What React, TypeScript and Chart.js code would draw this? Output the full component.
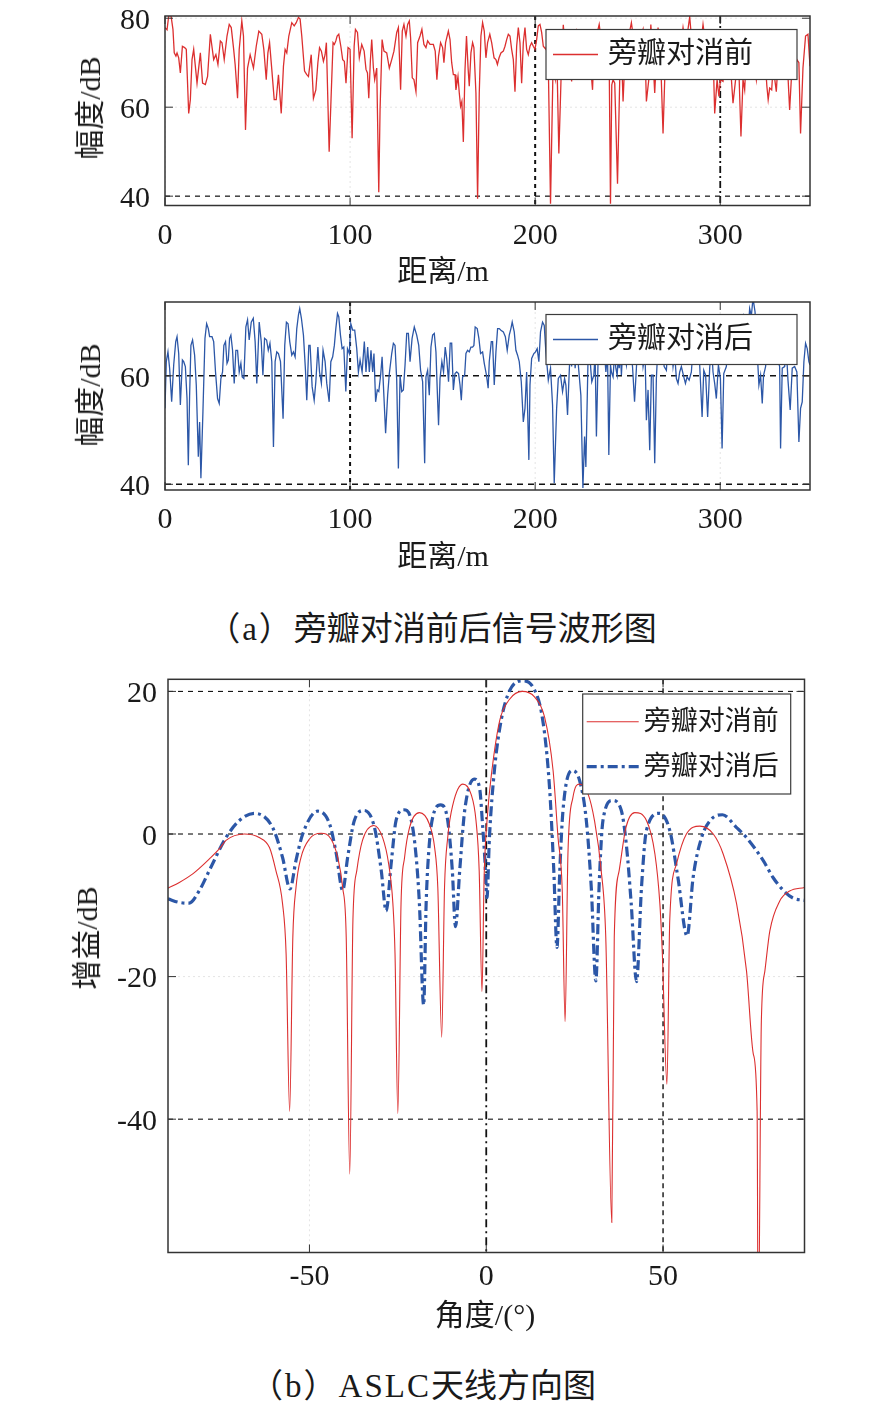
import { useEffect, useRef } from "react";
import { Chart, registerables } from "chart.js";

Chart.register(...registerables);

// (a) 旁瓣对消前 —— 距离 (m) / 幅度 (dB)
const DIST_BEFORE = [
  0, 1.1, 2, 3.2, 4.3, 5, 5.9, 6.5, 7.4, 8.3,
  9.4, 10.6, 11.5, 12.8, 13.7, 14.6, 15.5, 17.3, 19.1, 20.3,
  21.8, 23, 24.5, 26.3, 27.5, 28.6, 29.9, 30.8, 32, 33.5,
  34.7, 35.8, 37.1, 37.9, 39.2, 40.1, 41.5, 42.4, 43.5, 44.6,
  46, 47.8, 49.3, 50.7, 52.3, 53.4, 54.7, 55.6, 56.5, 57.7,
  59, 60.1, 61.3, 62.8, 64, 64.9, 65.8, 66.9, 68.5, 69.8,
  70.9, 72.1, 73, 73.9, 75.4, 76.6, 77.5, 79, 80.2, 81.5,
  82.6, 83.5, 84.5, 85.6, 86.5, 87.2, 88.7, 89.7, 90.8, 91.5,
  92.3, 93, 93.9, 95, 96, 96.9, 97.8, 98.9, 100, 101.1,
  102.2, 102.9, 104, 105, 106.3, 107.6, 108.6, 109.4, 110.1, 111,
  111.7, 112.6, 113.3, 114.4, 115.5, 116.2, 117.3, 118.3, 119.8, 121.2,
  122.5, 123.7, 125.2, 126.1, 127.3, 128.2, 129.1, 130.2, 131.1, 132,
  132.7, 133.6, 134.5, 135.6, 136.5, 137.8, 138.8, 139.9, 141, 141.9,
  143.2, 145, 146, 146.9, 147.8, 148.9, 150, 150.7, 151.6, 153.1,
  154, 154.9, 155.8, 156.7, 157.2, 158.3, 159, 159.7, 160.4, 161.2,
  162.1, 162.9, 163.8, 164.4, 165.3, 166.2, 166.9, 168, 168.9, 169.8,
  170.7, 171.6, 172.5, 173.4, 174.3, 175.5, 176.5, 177.8, 178.8, 179.6,
  180.5, 181.5, 182.8, 183.7, 184.6, 185.5, 186.4, 187.3, 188.2, 189.1,
  190, 190.9, 191.8, 192.7, 193.6, 194.5, 195.4, 196.3, 197.2, 198.1,
  199, 199.9, 200.8, 201.7, 202.6, 203.5, 204.4, 205.8, 206.9, 208.3,
  209.7, 210.9, 211.8, 212.8, 214.1, 215.2, 216.2, 217.3, 218.4, 219.7,
  220.9, 222.4, 223.8, 225.1, 226.3, 227.8, 229, 230.4, 231, 231.7,
  233.1, 234.6, 236, 237.5, 238.9, 240, 240.7, 241.4, 242.1, 243,
  244.5, 245.7, 246.6, 247.5, 248.6, 250.1, 252, 253.3, 254.7, 256.2,
  257.3, 258.3, 259.4, 260.1, 261.4, 262.5, 263.5, 264.6, 265.5, 266.4,
  267.7, 269.1, 270, 271.3, 272.7, 274.2, 275.6, 277.2, 278.5, 279.9,
  281.3, 282.4, 283.5, 284.6, 285.7, 286.7, 287.5, 288.9, 290.7, 292.1,
  293.6, 294.8, 296.1, 297, 298.3, 299.3, 300.1, 301.5, 302.6, 303.7,
  305.1, 306.9, 308.3, 309.8, 311.2, 312.3, 313.2, 314.1, 315, 316.2,
  317.7, 319.5, 320.9, 322.4, 324, 325.2, 325.9, 326.7, 327.8, 328.7,
  329.6, 330.3, 331.2, 332.1, 333.5, 334.8, 336, 337.5, 338.4, 339.3,
  340.3, 341.4, 342.5, 343.4, 344.7, 346.1, 347.4, 348.5,
];
const AMP_BEFORE = [
  77.9, 77.4, 80.5, 80.7, 77.5, 72.2, 71.5, 72.2, 71.1, 67.7,
  73.7, 73.4, 73.0, 58.6, 61.7, 70.7, 73.0, 65.4, 72.2, 65.4,
  65.1, 66.9, 76.4, 70.7, 71.8, 69.6, 74.9, 74.5, 70.7, 76.0,
  78.6, 77.9, 73.0, 69.6, 62.0, 73.0, 79.4, 76.0, 54.9, 68.8,
  71.8, 68.8, 73.7, 77.1, 76.4, 73.0, 66.2, 72.2, 74.5, 68.5,
  61.7, 61.7, 67.3, 58.6, 69.2, 73.0, 72.2, 76.0, 79.0, 78.3,
  79.0, 80.2, 79.8, 76.0, 68.1, 67.3, 66.9, 71.8, 62.0, 63.9,
  70.0, 73.4, 72.6, 70.3, 71.8, 74.5, 50.0, 61.7, 74.5, 74.1,
  74.9, 76.0, 76.4, 73.7, 70.7, 70.3, 65.4, 73.4, 73.0, 53.0,
  73.7, 77.5, 76.8, 71.1, 74.1, 72.6, 68.5, 67.7, 62.0, 70.7,
  75.2, 68.8, 66.2, 68.8, 40.9, 59.4, 75.2, 72.6, 72.2, 68.8,
  70.7, 72.6, 76.8, 77.9, 63.9, 77.1, 78.6, 76.0, 78.6, 79.4,
  75.6, 66.6, 66.2, 63.5, 74.5, 76.0, 77.5, 74.1, 73.4, 74.9,
  74.1, 74.1, 72.6, 66.2, 71.5, 74.5, 73.4, 70.0, 74.5, 77.1,
  75.2, 70.0, 67.3, 67.3, 63.9, 66.9, 63.2, 60.2, 61.3, 52.2,
  68.5, 76.0, 68.5, 64.7, 72.2, 74.5, 73.4, 63.2, 39.4, 63.2,
  76.0, 79.0, 77.1, 71.1, 74.5, 76.4, 74.5, 71.1, 70.7, 69.6,
  71.1, 72.2, 72.6, 73.7, 75.2, 76.4, 76.0, 73.0, 70.7, 63.5,
  73.7, 77.9, 74.5, 65.4, 74.5, 77.9, 73.0, 71.8, 73.7, 74.5,
  73.7, 73.0, 75.2, 78.3, 78.6, 76.8, 73.7, 73, 75, 38.3,
  70, 66.3, 70, 49.6, 68, 78.5, 73, 76, 72, 65.8,
  74, 77, 73, 76, 72, 75, 73, 66.9, 63.9, 72,
  76, 78.6, 74, 72, 74, 70, 38.3, 65, 66.2, 65.4,
  42.8, 66.2, 73, 61.3, 72, 75, 79, 75, 72, 74,
  76, 77.5, 72, 61.3, 66.2, 78.6, 72, 63.2, 71, 77.9,
  72, 54.1, 66.2, 73, 75, 72, 74, 76, 73, 77.9,
  74, 77, 80.3, 75, 72, 66.2, 75, 72, 78.6, 74,
  72, 75, 73, 58.6, 66.2, 62.4, 66.2, 65.8, 72, 66.6,
  72, 60.9, 66.2, 72, 53.4, 66.2, 63.9, 72, 66.2, 74,
  72, 66.2, 73, 70, 72, 64.7, 61.7, 64.3, 63.9, 70,
  65.8, 63.5, 70, 66.2, 72, 70, 72, 59.4, 66.2, 70,
  68, 70.7, 70, 54.1, 68.8, 76, 76.4, 69.2,
];

// (a) 旁瓣对消后
const DIST_AFTER = [
  0, 0.7, 1.6, 2.5, 3.6, 4.7, 5.8, 6.5, 7.4, 8.3,
  9.4, 10.1, 11, 11.9, 12.6, 13.3, 14, 14.9, 16, 16.9,
  18, 18.7, 19.4, 20.5, 21.6, 22.5, 23.4, 24.1, 25.4, 26.3,
  27.3, 28.4, 29.3, 30.2, 31.1, 31.8, 32.7, 33.5, 34.2, 34.9,
  35.6, 36.5, 37.4, 38.3, 39.2, 40.1, 41, 41.7, 42.6, 43.7,
  44.6, 45.5, 46.6, 47.7, 48.7, 49.6, 50.9, 52, 52.9, 53.8,
  54.9, 55.8, 56.7, 57.7, 58.6, 59.5, 60.4, 61.3, 62.4, 63.8,
  64.7, 65.6, 66.5, 67.4, 68.5, 69.4, 70.3, 71.2, 72.1, 72.8,
  73.7, 74.8, 75.9, 76.6, 77.7, 78.4, 79.5, 80.6, 81.5, 82.6,
  83.5, 84.5, 85.4, 86.5, 87.4, 88.7, 89.6, 90.6, 91.5, 92.3,
  93.2, 93.9, 94.8, 95.7, 96.6, 97.7, 98.6, 99.6, 100.4, 101.4,
  102.5, 103.6, 104.5, 105.4, 106.5, 107.7, 108.6, 109.5, 110.4, 111.3,
  112.2, 112.9, 113.8, 114.7, 115.5, 116.5, 117.3, 118.3, 119.2, 120.3,
  121.2, 122.5, 123.4, 124.3, 125.2, 126.1, 127, 127.9, 128.8, 129.7,
  130.6, 131.5, 132.4, 133.5, 134.7, 136, 137.1, 138.1, 139.2, 140.3,
  141, 141.9, 142.8, 143.7, 144.6, 145.5, 146.4, 147.1, 147.8, 148.6,
  149.6, 150.5, 151.4, 152.2, 153.2, 154.1, 154.9, 155.8, 156.7, 157.6,
  158.6, 159.4, 160.1, 160.8, 161.9, 162.6, 163.5, 164.4, 165.3, 166.2,
  166.9, 167.6, 168.7, 169.6, 170.5, 171.6, 172.5, 173.7, 174.6, 175.2,
  176.3, 177, 177.9, 178.8, 179.7, 180.6, 181.5, 182.8, 183.9, 184.9,
  186, 186.9, 187.6, 188.7, 189.6, 190.5, 191.4, 192.5, 193.6, 194.5,
  195.4, 196.6, 197.2, 198.1, 199.3, 200.2, 201.1, 202, 202.9, 204,
  204.9, 205.8, 207.1, 208.3, 209.4, 210.3, 211.6, 212.5, 213.7, 214.8,
  215.9, 216.6, 217.5, 218.4, 219.1, 219.7, 220.6, 221.6, 222.7, 223.4,
  224.7, 225.8, 226.7, 227.4, 228.5, 229.2, 230.1, 230.6, 231.7, 232.4,
  233.1, 234, 234.9, 236, 237.1, 238.2, 239.1, 239.8, 240.7, 241.2,
  242.1, 242.9, 243.6, 244.3, 245, 245.4, 246.1, 246.6, 247.5, 249.3,
  250.8, 252.6, 253.7, 254.7, 255.6, 256.5, 257.4, 258.3, 259.4, 260.1,
  261, 261.9, 262.8, 263.7, 264.6, 265.5, 266.4, 267.3, 268.4, 269.7,
  270.9, 271.8, 272.7, 273.6, 274.5, 275.4, 276.3, 277.2, 278.1, 279,
  280.3, 281.2, 282.1, 283.2, 284.4, 285.7, 287.1, 288, 288.9, 290.2,
  291.1, 292.1, 293.2, 294.3, 295.2, 296.1, 297, 297.9, 299, 300.1,
  301, 301.9, 303.3, 304.7, 306, 306.9, 308.3, 309.8, 311.2, 312.6,
  314.1, 315, 315.9, 316.8, 317.7, 318.8, 319.8, 320.9, 321.8, 322.7,
  323.4, 324.5, 325.8, 327, 328.5, 330.3, 332.1, 332.6, 333.5, 334.8,
  335.7, 336.6, 337.8, 338.9, 340.2, 341.4, 342.5, 343.4, 344.3, 345.2,
  346.1, 347, 347.9, 348.5,
];
const AMP_AFTER = [
  54.0, 62.6, 64.4, 61.4, 55.2, 62.0, 66.3, 67.2, 64.1, 54.6,
  62.9, 62.6, 61.7, 55.8, 43.5, 56.4, 65.6, 66.6, 63.8, 58.3,
  45.1, 51.5, 41.1, 53.4, 66.9, 69.6, 68.7, 67.2, 67.2, 66.3,
  60.7, 55.8, 54.9, 59.5, 60.7, 65.6, 66.3, 62.3, 62.9, 66.9,
  67.5, 64.7, 58.6, 64.7, 64.7, 60.7, 62.3, 59.8, 59.5, 69.0,
  70.3, 66.6, 69.9, 70.6, 66.3, 58.6, 69.9, 66.3, 60.1, 66.9,
  66.6, 64.7, 66.0, 62.6, 46.9, 62.6, 64.4, 64.1, 62.6, 52.1,
  65.6, 69.9, 69.6, 66.3, 63.8, 64.4, 63.5, 68.7, 71.2, 72.4,
  70.6, 67.5, 61.0, 55.5, 65.6, 65.6, 58.0, 55.5, 58.9, 65.3,
  60.7, 58.6, 64.7, 62.6, 58.6, 55.2, 62.6, 63.5, 65.6, 68.7,
  71.5, 70.9, 67.5, 65.0, 65.3, 57.1, 65.0, 64.1, 69.6, 68.4,
  68.4, 65.0, 60.7, 62.9, 60.7, 66.3, 60.7, 65.3, 60.7, 64.7,
  60.7, 64.1, 55.2, 57.4, 57.1, 60.1, 63.5, 56.1, 49.4, 56.4,
  60.4, 64.1, 66.0, 65.6, 59.2, 42.9, 60.1, 57.1, 57.4, 62.0,
  67.8, 67.8, 62.6, 66.9, 69.0, 67.5, 65.6, 61.0, 58.9, 43.9,
  59.8, 61.0, 56.4, 65.3, 67.5, 67.8, 64.4, 57.4, 50.9, 59.5,
  62.6, 60.7, 65.3, 63.2, 58.9, 66.0, 66.0, 57.4, 60.4, 60.7,
  60.4, 58.3, 55.5, 59.8, 60.1, 64.1, 64.7, 64.4, 65.3, 65.3,
  65.6, 69.0, 68.7, 66.9, 64.1, 64.4, 62.3, 60.1, 57.7, 62.6,
  66.3, 66.3, 58.3, 64.4, 68.7, 68.7, 68.4, 68.1, 67.2, 64.7,
  67.5, 68.7, 69.9, 68.1, 64.7, 63.8, 62.6, 58.9, 51.5, 54.0,
  60.7, 44.5, 58.3, 63.2, 64.1, 64.4, 65.0, 62.6, 68.1, 69.9,
  69.3, 64.4, 59.2, 61.4, 54.6, 40.2, 54.0, 59.5, 60.1, 57.1,
  59.5, 58.3, 52.8, 60.7, 66, 61.7, 67, 61.4, 66, 61.7,
  56.4, 39.3, 48.8, 43.2, 62.0, 66, 61.0, 58.9, 60.1, 64,
  48.8, 63, 67, 62.0, 66, 60.7, 64, 45.4, 62, 60.7,
  59.8, 64, 61.4, 60.1, 64, 61.4, 64, 60.1, 66, 62.0,
  68, 61.7, 55.2, 61.4, 67, 62.0, 66, 61.7, 64, 51.8,
  57.4, 46.3, 60.1, 60.1, 43.9, 59.5, 66, 62.0, 67, 61.7,
  61.0, 66, 62.0, 66, 61.7, 64, 59.5, 58.6, 60.7, 61.7,
  59.8, 58.6, 59.8, 59.2, 60.7, 67, 62.0, 67, 62.0, 52.4,
  61.0, 60.1, 52.4, 61.4, 66, 60.7, 58.6, 55.8, 62.0, 59.5,
  46.6, 60.4, 61.7, 68, 66, 62.0, 67, 69, 70, 71.2,
  69.3, 68, 72.4, 71, 74.3, 71.8, 65.6, 58.3, 60.1, 54.9,
  60.1, 61.7, 66, 68, 66, 64, 61.7, 46.6, 61.4, 61.7,
  65, 59.2, 53.7, 61.4, 61.7, 60.7, 47.8, 54.0, 55.2, 62.6,
  66.0, 65.0, 62.6, 62.0,
];

// (b) ASLC 天线方向图 —— 角度 (°) / 增益 (dB)
const ANGLE_BEFORE = [
  -90, -86.8, -83, -78.3, -75.5, -73.6, -68.4, -64.2, -61.3, -59.5,
  -57.6, -56.6, -55.6, -54.7, -53.8, -52.4, -50, -46.7, -43.9, -42,
  -40.6, -39.6, -38.6, -37.7, -36.6, -35, -31.8, -29.3, -27.6, -26.4,
  -25.8, -25, -24.1, -23.1, -21.7, -18.9, -16.1, -14.6, -13.7, -12.6,
  -11.8, -10.9, -9.4, -6.6, -4.3, -2.9, -2, -1.2, -0.6, 0.4,
  1.5, 3.8, 6.6, 10.2, 13.7, 16.5, 18.9, 20.3, 21.5, 22.3,
  23.1, 24.5, 26.4, 28.8, 30.6, 32.5, 33.8, 35.5, 36.2, 37.6,
  39.5, 42, 45.3, 47.7, 49.1, 49.8, 51.1, 51.9, 53.8, 56.6,
  60.4, 64.2, 67, 70.8, 73.6, 75.5, 76.6, 76.9, 77.8, 78.8,
  80.2, 83, 85.8, 90,
];
const GAIN_BEFORE = [
  -7.6, -6.8, -5.6, -3.5, -2.1, -0.9, 0, -0.5, -1.9, -5.1,
  -9.8, -16.8, -38.9, -14.5, -7.5, -3.3, -0.7, 0.1, -0.7, -3.3,
  -7.5, -14.5, -47.7, -12, -5.1, -0.9, 1.2, -0.5, -4.2, -9.8,
  -16.8, -39.2, -9.8, -3.3, 0.9, 3, 1.4, -1.9, -7.5, -28.5,
  -7.5, -0.5, 4.2, 7, 5.6, 1.9, -5.1, -22.1, -6, 3,
  8.5, 15.9, 18.9, 20, 19.2, 16.4, 8.9, -0.5, -8, -26.3,
  -2.8, 5.1, 7, 5.6, 1.9, -5.1, -14.5, -54.5, -14.5, -5.1,
  0.9, 3, 1.9, -2.8, -9.8, -16.8, -35.1, -12, -4.2, 0,
  1.1, 0, -2.8, -9.8, -19.2, -30.8, -38.9, -72, -26.2, -19.2,
  -13.6, -9.4, -8.0, -7.5,
];
const ANGLE_AFTER = [
  -90, -86.8, -84, -81.1, -78.3, -73.6, -69.8, -65.6, -60.4, -57.6,
  -55.5, -53.8, -51.9, -47.7, -44.3, -42.4, -40.6, -39.2, -37.3, -34.5,
  -31.6, -29.7, -28.3, -26.9, -25.5, -23.3, -21.2, -19.8, -18.9, -17.7,
  -17, -16.1, -14.6, -12.9, -10.9, -9.6, -8.7, -7.5, -6.1, -3.4,
  -1.9, -1, -0.4, 0.2, 0.9, 2.3, 4.2, 6.6, 10.2, 13.2,
  16, 17.9, 19.1, 20, 20.8, 21.7, 24.3, 26.4, 28.3, 29.7,
  31, 31.9, 33, 35.7, 38.2, 39.6, 41, 42.5, 43.9, 45.3,
  49, 51.9, 54.2, 56.8, 58.5, 60.9, 63.7, 66.8, 70.8, 73.6,
  78.3, 81.1, 84, 86.8, 90,
];
const GAIN_AFTER = [
  -9.1, -9.6, -9.7, -7.9, -5.1, -0.5, 1.9, 2.9, 0.9, -3.3,
  -7.7, -3.7, 0, 3.2, 1.4, -2.8, -7.9, -3.3, 1.9, 3.3,
  0.9, -5.1, -10.8, -4.2, 1.9, 3.4, 1.9, -3.3, -9.8, -24,
  -9.8, -1.4, 3.3, 4.1, 1.9, -5.1, -13, -5.1, 3.3, 7.7,
  6.5, 1, -3.5, -8.9, -0.5, 8.9, 15.9, 20.1, 21.5, 20.6,
  15.9, 6.5, -5.1, -15.9, -5.1, 3.3, 8.9, 7.5, 1.9, -7.5,
  -20.6, -7.5, 1.9, 4.7, 3.3, -1.4, -9.8, -20.7, -7.5, 0.5,
  2.9, 0.5, -6.1, -14.3, -6.1, -0.5, 2.1, 2.7, 0.9, -0.5,
  -3.7, -6.1, -7.9, -9, -9.3,
];

const RANGE_TICKS = [0, 100, 200, 300];
const AMP_TICKS_BEFORE = [40, 60, 80];
const AMP_TICKS_AFTER = [40, 60];
const ANGLE_TICKS = [-50, 0, 50];
const GAIN_TICKS = [-40, -20, 0, 20];

const FONT = '"Liberation Serif", "Noto Sans CJK SC", serif';
const RED = "#dc2f2f";
const BLUE = "#2c57a7";

type RefLine = { v: number; dash: number[]; w: number };
type LegendBox = { right: number; top: number; w: number; h: number; rows: number[]; x0: number; x1: number; tx: number; font: number };

const toXY = (xs: number[], ys: number[]) =>
  xs.slice(0, Math.min(xs.length, ys.length)).map((x, i) => ({ x, y: ys[i] }));

function framePlugin(refX: RefLine[], refY: RefLine[], legend: LegendBox) {
  return {
    id: "frame",
    beforeDatasetsDraw(chart: any) {
      const { ctx, chartArea: a, scales } = chart;
      const sx = scales.x, sy = scales.y;
      ctx.save();
      ctx.beginPath();
      ctx.rect(a.left, a.top, a.right - a.left, a.bottom - a.top);
      ctx.clip();
      const seg = (x1: number, y1: number, x2: number, y2: number) => {
        ctx.beginPath(); ctx.moveTo(x1, y1); ctx.lineTo(x2, y2); ctx.stroke();
      };
      // faint grid
      ctx.strokeStyle = "#e4e4e4";
      ctx.lineWidth = 1;
      ctx.setLineDash([2, 3]);
      sx.ticks.forEach((t: any) => {
        if (refX.some((r) => r.v === t.value)) return;
        const p = sx.getPixelForValue(t.value);
        seg(p, a.top, p, a.bottom);
      });
      sy.ticks.forEach((t: any) => {
        if (refY.some((r) => r.v === t.value)) return;
        const p = sy.getPixelForValue(t.value);
        seg(a.left, p, a.right, p);
      });
      // reference lines
      ctx.strokeStyle = "#111";
      refX.forEach((r) => {
        ctx.lineWidth = r.w; ctx.setLineDash(r.dash);
        const p = sx.getPixelForValue(r.v);
        seg(p, a.top, p, a.bottom);
      });
      refY.forEach((r) => {
        ctx.lineWidth = r.w; ctx.setLineDash(r.dash);
        const p = sy.getPixelForValue(r.v);
        seg(a.left, p, a.right, p);
      });
      ctx.restore();
    },
    afterDatasetsDraw(chart: any) {
      const { ctx, chartArea: a, scales } = chart;
      const sx = scales.x, sy = scales.y;
      ctx.save();
      ctx.setLineDash([]);
      ctx.strokeStyle = "#333";
      ctx.lineWidth = 1;
      const seg = (x1: number, y1: number, x2: number, y2: number) => {
        ctx.beginPath(); ctx.moveTo(x1, y1); ctx.lineTo(x2, y2); ctx.stroke();
      };
      sx.ticks.forEach((t: any) => {
        const p = sx.getPixelForValue(t.value);
        seg(p, a.bottom, p, a.bottom - 8);
        seg(p, a.top, p, a.top + 8);
      });
      sy.ticks.forEach((t: any) => {
        const p = sy.getPixelForValue(t.value);
        seg(a.left, p, a.left + 8, p);
        seg(a.right, p, a.right - 8, p);
      });
      ctx.lineWidth = 1.5;
      ctx.strokeRect(a.left, a.top, a.right - a.left, a.bottom - a.top);

      // legend
      const bx = a.right - legend.right - legend.w;
      const by = a.top + legend.top;
      ctx.fillStyle = "#fff";
      ctx.fillRect(bx, by, legend.w, legend.h);
      ctx.strokeStyle = "#3c3c3c";
      ctx.lineWidth = 1.2;
      ctx.strokeRect(bx, by, legend.w, legend.h);
      ctx.font = `${legend.font}px ${FONT}`;
      ctx.textBaseline = "middle";
      ctx.textAlign = "left";
      chart.data.datasets.forEach((ds: any, i: number) => {
        const y = by + legend.rows[i];
        ctx.strokeStyle = ds.borderColor;
        ctx.lineWidth = ds.borderWidth;
        ctx.setLineDash(ds.borderDash || []);
        seg(bx + legend.x0, y, bx + legend.x1, y);
        ctx.setLineDash([]);
        ctx.fillStyle = "#1a1a1a";
        ctx.fillText(ds.label, bx + legend.tx, y + 1);
      });
      ctx.restore();
    },
  };
}

type Axes = {
  xMin: number; xMax: number; xTicks: number[]; xPad: number; xh: number;
  yMin: number; yMax: number; yTicks: number[]; yPad: number; yw: number;
  top: number; right: number;
};

function buildOptions(ax: Axes): any {
  const tickFont = { family: FONT, size: 30 };
  return {
    animation: false,
    responsive: true,
    maintainAspectRatio: false,
    events: [],
    layout: { padding: { left: 0, top: ax.top, right: ax.right, bottom: 0 }, autoPadding: false },
    plugins: { legend: { display: false }, tooltip: { enabled: false } },
    scales: {
      x: {
        type: "linear", min: ax.xMin, max: ax.xMax,
        grid: { display: false, drawTicks: false }, border: { display: false },
        ticks: { padding: ax.xPad, font: tickFont, color: "#1a1a1a", maxRotation: 0, autoSkip: false },
        afterBuildTicks: (s: any) => { s.ticks = ax.xTicks.map((value) => ({ value })); },
        afterFit: (s: any) => { s.height = ax.xh; s.paddingLeft = 0; s.paddingRight = 0; },
      },
      y: {
        type: "linear", min: ax.yMin, max: ax.yMax,
        grid: { display: false, drawTicks: false }, border: { display: false },
        ticks: { padding: ax.yPad, font: tickFont, color: "#1a1a1a", autoSkip: false, labelOffset: 3 },
        afterBuildTicks: (s: any) => { s.ticks = ax.yTicks.map((value) => ({ value })); },
        afterFit: (s: any) => { s.width = ax.yw; s.paddingTop = 0; s.paddingBottom = 0; },
      },
    },
  };
}

function ChartBox({ left, top, width, height, make }: { left: number; top: number; width: number; height: number; make: () => any }) {
  const ref = useRef<HTMLCanvasElement>(null);
  useEffect(() => {
    if (!ref.current) return;
    const chart = new Chart(ref.current, make());
    return () => chart.destroy();
  }, []);
  return (
    <div style={{ position: "absolute", left, top, width, height }}>
      <canvas ref={ref}></canvas>
    </div>
  );
}

function Label({ x, y, size = 30, rotate = false, children }: { x: number; y: number; size?: number; rotate?: boolean; children: any }) {
  return (
    <div
      style={{
        position: "absolute", left: x, top: y,
        transform: `translate(-50%, -50%)${rotate ? " rotate(-90deg)" : ""}`,
        fontFamily: FONT, fontSize: size, lineHeight: 1, whiteSpace: "nowrap", color: "#1a1a1a",
      }}
    >
      {children}
    </div>
  );
}

const makeBefore = () => ({
  type: "line",
  data: {
    datasets: [{
      label: "旁瓣对消前", data: toXY(DIST_BEFORE, AMP_BEFORE),
      borderColor: RED, borderWidth: 1.3, pointRadius: 0, tension: 0, fill: false,
    }],
  },
  options: buildOptions({
    xMin: 0, xMax: 348.5, xTicks: RANGE_TICKS, xPad: 13, xh: 54.5,
    yMin: 37.9, yMax: 80.5, yTicks: AMP_TICKS_BEFORE, yPad: 15, yw: 65,
    top: 16, right: 30,
  }),
  plugins: [framePlugin(
    [{ v: 200, dash: [4, 4], w: 2 }, { v: 300, dash: [7, 3, 2, 3], w: 1.8 }],
    [{ v: 40, dash: [5, 5], w: 1.2 }],
    { right: 13, top: 13.5, w: 251, h: 50, rows: [25], x0: 7, x1: 52, tx: 62, font: 29 },
  )],
});

const makeAfter = () => ({
  type: "line",
  data: {
    datasets: [{
      label: "旁瓣对消后", data: toXY(DIST_AFTER, AMP_AFTER),
      borderColor: BLUE, borderWidth: 1.3, pointRadius: 0, tension: 0, fill: false,
    }],
  },
  options: buildOptions({
    xMin: 0, xMax: 348.5, xTicks: RANGE_TICKS, xPad: 12, xh: 56,
    yMin: 38.95, yMax: 73.6, yTicks: AMP_TICKS_AFTER, yPad: 15, yw: 65,
    top: 16, right: 30,
  }),
  plugins: [framePlugin(
    [{ v: 100, dash: [4, 4], w: 2 }],
    [{ v: 60, dash: [6, 5], w: 1.5 }, { v: 40, dash: [6, 5], w: 1.5 }],
    { right: 13, top: 12.5, w: 251, h: 50, rows: [25], x0: 7, x1: 52, tx: 62, font: 29 },
  )],
});

const makePattern = () => ({
  type: "line",
  data: {
    datasets: [
      {
        label: "旁瓣对消前", data: toXY(ANGLE_BEFORE, GAIN_BEFORE),
        borderColor: RED, borderWidth: 1.1, pointRadius: 0, cubicInterpolationMode: "monotone", fill: false,
      },
      {
        label: "旁瓣对消后", data: toXY(ANGLE_AFTER, GAIN_AFTER),
        borderColor: BLUE, borderWidth: 3.2, borderDash: [10, 4, 3, 4], pointRadius: 0,
        cubicInterpolationMode: "monotone", fill: false,
      },
    ],
  },
  options: buildOptions({
    xMin: -90, xMax: 90, xTicks: ANGLE_TICKS, xPad: 6.5, xh: 52.5,
    yMin: -58.7, yMax: 21.7, yTicks: GAIN_TICKS, yPad: 11, yw: 68,
    top: 14.3, right: 25.5,
  }),
  plugins: [framePlugin(
    [{ v: 0, dash: [8, 4, 2, 4], w: 1.8 }, { v: 50, dash: [5, 4], w: 1.4 }],
    [{ v: 20, dash: [5, 5], w: 1.1 }, { v: 0, dash: [5, 5], w: 1.1 }, { v: -40, dash: [5, 5], w: 1.1 }],
    { right: 13.8, top: 14.7, w: 208, h: 100, rows: [27.7, 72.7], x0: 4, x1: 56, tx: 61, font: 27 },
  )],
});

export default function App() {
  return (
    <div style={{ position: "absolute", left: 0, top: 0, width: 889, height: 1422, background: "#fff", overflow: "hidden" }}>
      <ChartBox left={100} top={0} width={740} height={260} make={makeBefore} />
      <Label x={90} y={108} rotate>幅度/dB</Label>
      <Label x={443} y={271}>距离/m</Label>

      <ChartBox left={100} top={286} width={740} height={260} make={makeAfter} />
      <Label x={90} y={395} rotate>幅度/dB</Label>
      <Label x={443} y={556}>距离/m</Label>

      <Label x={432} y={629} size={33}>
        <span style={{ letterSpacing: 2 }}>（a）</span>旁瓣对消前后信号波形图
      </Label>

      <ChartBox left={100} top={665} width={730} height={640} make={makePattern} />
      <Label x={87} y={938} rotate>增益/dB</Label>
      <Label x={485} y={1315}>角度/(°)</Label>

      <Label x={423} y={1386} size={33}>
        <span style={{ letterSpacing: 2 }}>（b）</span>
        <span style={{ letterSpacing: 2 }}>ASLC</span>天线方向图
      </Label>
    </div>
  );
}
